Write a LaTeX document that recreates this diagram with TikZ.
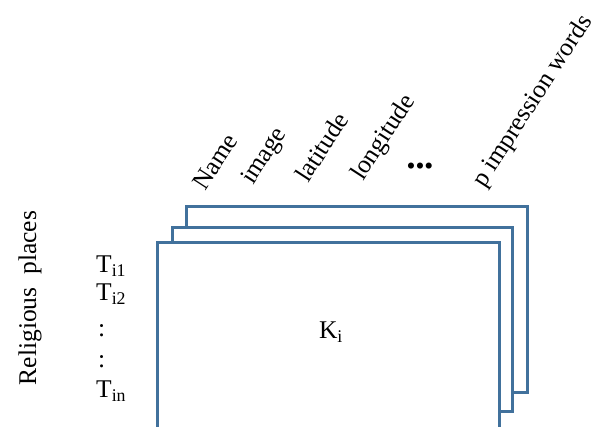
\documentclass[tikz,border=0pt]{standalone}
\usepackage{fontspec}
\setmainfont{Liberation Serif}
\definecolor{sheetblue}{HTML}{41719C}
\tikzset{
  sheet/.style={draw=sheetblue, line width=3pt, fill=white},
  lbl/.style={inner sep=0pt, font=\fontsize{25.5}{30}\selectfont},
  collabel/.style={lbl, rotate=57, anchor=base west},
  rowlabel/.style={lbl, anchor=base west}
}
\begin{document}
\begin{tikzpicture}[x=1pt, y=1pt]
\useasboundingbox (0,0) rectangle (592,427);

% stacked sheets, back to front
\draw[sheet] (186,34) rectangle (527,220);
\draw[sheet] (172,15) rectangle (512,199);
\draw[sheet] (157,-10) rectangle (499,184);

% sheet label
\node[lbl, anchor=base] (k) at (331,88) {K\textsubscript{i}};

% column labels
\node[collabel] (name) at (205,235) {Name};
\node[collabel] (image) at (253,241) {image};
\node[collabel] (lat) at (308,243) {latitude};
\node[collabel] (lon) at (363,245) {longitude};
\node[lbl] (more) at (420,258) {•••};
\node[collabel] (words) at (484,238) {p impression words};

% row labels
\node[rowlabel] (t1) at (96,154) {T\textsubscript{i1}};
\node[rowlabel] (t2) at (96,126) {T\textsubscript{i2}};
\node[rowlabel] (d1) at (98,90) {:};
\node[rowlabel] (d2) at (98,59) {:};
\node[rowlabel] (tn) at (96,29) {T\textsubscript{in}};

% axis label
\node[lbl, rotate=90] (places) at (30,129) {Religious\ \ places};
\end{tikzpicture}
\end{document}
